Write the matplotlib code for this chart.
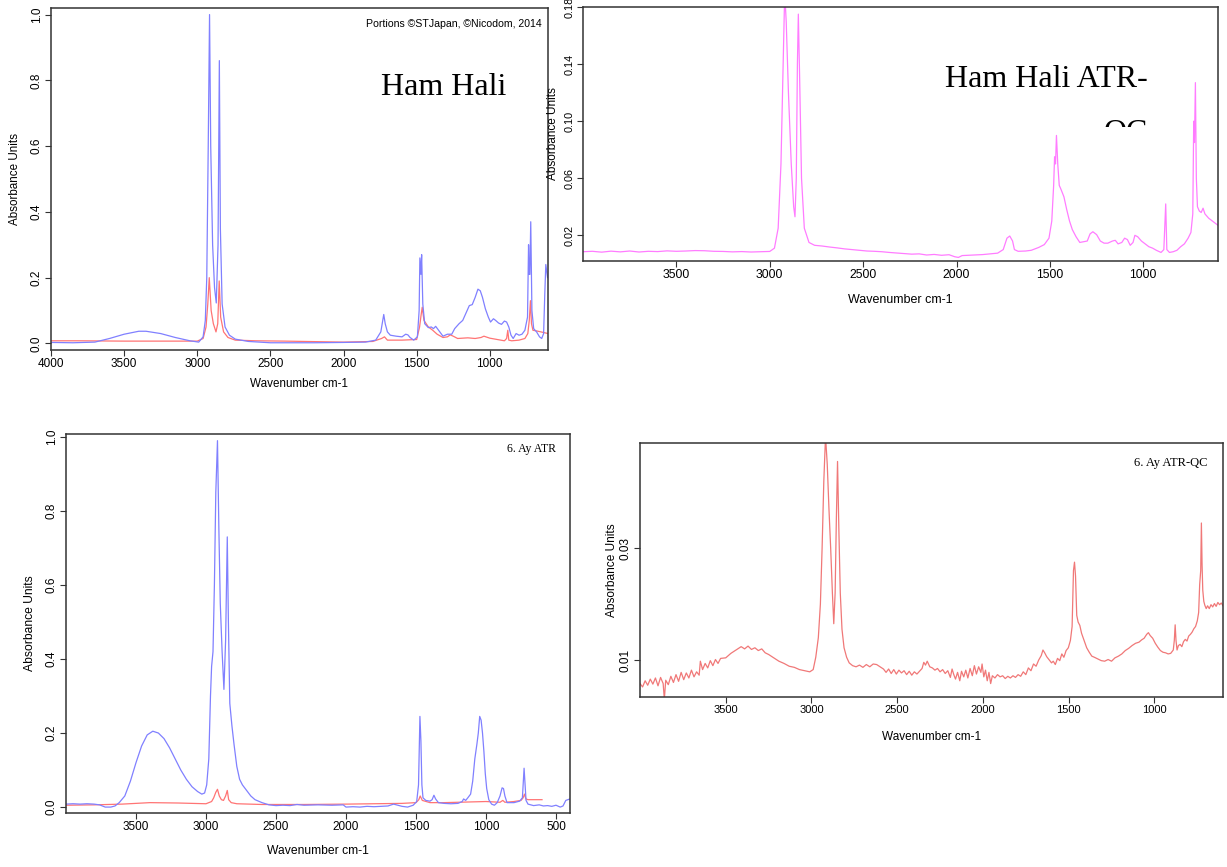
import matplotlib.pyplot as plt
from matplotlib.transforms import Bbox, TransformedBbox

# ---------------------------------------------------------------
# spectra (wavenumber cm-1 / absorbance)
# ---------------------------------------------------------------
ham_wn = [4000, 3850, 3700, 3600, 3500, 3400, 3350, 3250, 3150, 3050, 2990, 2960, 2945, 2935,
          2925, 2916, 2908, 2895, 2882, 2870, 2858, 2849, 2842, 2830, 2810, 2780, 2740, 2650,
          2500, 2200, 2000, 1850, 1780, 1745, 1725, 1715, 1700, 1680, 1640, 1600, 1575, 1560,
          1545, 1520, 1495, 1483, 1478, 1471, 1466, 1458, 1445, 1420, 1400, 1385, 1370, 1350,
          1320, 1290, 1260, 1240, 1210, 1185, 1160, 1140, 1120, 1100, 1081, 1065, 1050, 1030,
          1010, 995, 975, 960, 940, 920, 900, 885, 870, 855, 840, 820, 800, 780, 760, 742,
          735, 730, 726, 720, 712, 700, 680, 660, 645, 632, 624, 617, 605]
ham_blue = [0.003, 0.002, 0.004, 0.015, 0.028, 0.037, 0.037, 0.030, 0.018, 0.008, 0.004, 0.020,
            0.070, 0.200, 0.600, 1.000, 0.600, 0.300, 0.170, 0.123, 0.300, 0.860, 0.350, 0.120,
            0.050, 0.025, 0.013, 0.006, 0.002, 0.002, 0.003, 0.004, 0.010, 0.035, 0.088, 0.060,
            0.035, 0.025, 0.022, 0.020, 0.028, 0.026, 0.018, 0.010, 0.020, 0.100, 0.260, 0.210,
            0.270, 0.120, 0.060, 0.048, 0.050, 0.045, 0.052, 0.040, 0.022, 0.028, 0.028, 0.045,
            0.060, 0.070, 0.095, 0.115, 0.118, 0.140, 0.165, 0.160, 0.140, 0.105, 0.080, 0.065,
            0.075, 0.070, 0.062, 0.058, 0.068, 0.065, 0.050, 0.025, 0.015, 0.030, 0.025, 0.028,
            0.040, 0.080, 0.300, 0.210, 0.210, 0.370, 0.100, 0.045, 0.035, 0.020, 0.015, 0.030,
            0.150, 0.240, 0.200]
ham_red_wn = [4000, 3800, 3500, 3200, 3000, 2960, 2940, 2928, 2918, 2905, 2890, 2872, 2860,
              2850, 2840, 2820, 2790, 2740, 2600, 2400, 2000, 1800, 1740, 1720, 1700, 1600,
              1500, 1480, 1470, 1462, 1450, 1420, 1390, 1360, 1320, 1290, 1270, 1250, 1220,
              1150, 1100, 1060, 1040, 1000, 950, 900, 885, 877, 870, 850, 800, 760, 740, 730,
              722, 715, 705, 680, 640, 602]
ham_red = [0.008, 0.008, 0.007, 0.007, 0.007, 0.015, 0.050, 0.120, 0.200, 0.100, 0.060, 0.035,
           0.060, 0.190, 0.080, 0.035, 0.018, 0.010, 0.008, 0.007, 0.004, 0.006, 0.015, 0.020,
           0.010, 0.010, 0.012, 0.050, 0.085, 0.110, 0.070, 0.050, 0.040, 0.028, 0.018, 0.020,
           0.026, 0.022, 0.015, 0.017, 0.015, 0.018, 0.022, 0.016, 0.012, 0.008, 0.015, 0.040,
           0.010, 0.008, 0.010, 0.015, 0.030, 0.070, 0.130, 0.060, 0.040, 0.038, 0.034, 0.030]

qc_wn = [4000, 3950, 3900, 3850, 3800, 3750, 3700, 3650, 3600, 3550, 3500, 3450, 3400, 3350,
         3300, 3250, 3200, 3150, 3100, 3050, 3000, 2975, 2955, 2940, 2930, 2920, 2912, 2900,
         2885, 2872, 2865, 2858, 2852, 2847, 2840, 2830, 2815, 2790, 2760, 2720, 2680, 2640,
         2600, 2560, 2520, 2480, 2440, 2400, 2360, 2320, 2280, 2240, 2200, 2160, 2120, 2080,
         2040, 2010, 1990, 1970, 1940, 1900, 1860, 1820, 1780, 1750, 1730, 1715, 1700, 1690,
         1670, 1630, 1600, 1560, 1530, 1505, 1490, 1480, 1475, 1470, 1465, 1458, 1450, 1440,
         1425, 1410, 1395, 1380, 1360, 1340, 1320, 1300, 1285, 1270, 1250, 1230, 1210, 1190,
         1165, 1150, 1135, 1115, 1100, 1085, 1070, 1055, 1045, 1030, 1010, 990, 970, 950, 930,
         905, 890, 880, 874, 860, 840, 820, 800, 780, 760, 745, 735, 730, 726, 721, 716, 710,
         700, 690, 680, 670, 650, 630, 600]
qc_abs = [0.0085, 0.0088, 0.0082, 0.0089, 0.0084, 0.0090, 0.0083, 0.0088, 0.0086, 0.0091,
          0.0088, 0.0090, 0.0093, 0.0092, 0.0088, 0.0087, 0.0084, 0.0086, 0.0083, 0.0085,
          0.0087, 0.0110, 0.0250, 0.0700, 0.1300, 0.1900, 0.1700, 0.1200, 0.0700, 0.0400,
          0.0330, 0.0600, 0.1400, 0.1750, 0.1300, 0.0600, 0.0250, 0.0150, 0.0130, 0.0125,
          0.0118, 0.0112, 0.0105, 0.0100, 0.0095, 0.0090, 0.0088, 0.0085, 0.0080, 0.0076,
          0.0072, 0.0068, 0.0070, 0.0062, 0.0066, 0.0060, 0.0064, 0.0050, 0.0045, 0.0058,
          0.0060, 0.0062, 0.0065, 0.0070, 0.0075, 0.0100, 0.0180, 0.0195, 0.0160, 0.0100,
          0.0088, 0.0090, 0.0095, 0.0115, 0.0135, 0.0180, 0.0300, 0.0550, 0.0750, 0.0700,
          0.0900, 0.0700, 0.0550, 0.0520, 0.0470, 0.0380, 0.0300, 0.0240, 0.0190, 0.0150,
          0.0155, 0.0160, 0.0210, 0.0225, 0.0205, 0.0160, 0.0145, 0.0145, 0.0160, 0.0165,
          0.0140, 0.0150, 0.0180, 0.0170, 0.0130, 0.0150, 0.0200, 0.0190, 0.0160, 0.0140,
          0.0120, 0.0110, 0.0095, 0.0080, 0.0100, 0.0420, 0.0100, 0.0080, 0.0085, 0.0095,
          0.0120, 0.0140, 0.0180, 0.0220, 0.0350, 0.1000, 0.0850, 0.1270, 0.0600, 0.0400,
          0.0370, 0.0360, 0.0390, 0.0350, 0.0320, 0.0300, 0.0270]

ay_wn = [4000, 3950, 3900, 3850, 3800, 3760, 3720, 3680, 3650, 3620, 3580, 3540, 3500, 3460,
         3420, 3380, 3340, 3300, 3260, 3220, 3180, 3140, 3100, 3060, 3030, 3010, 2995, 2980,
         2968, 2960, 2950, 2940, 2930, 2918, 2908, 2898, 2885, 2872, 2860, 2848, 2840, 2830,
         2815, 2800, 2780, 2760, 2740, 2710, 2680, 2650, 2600, 2550, 2500, 2450, 2400, 2350,
         2300, 2200, 2100, 2020, 2000, 1950, 1900, 1850, 1800, 1750, 1700, 1660, 1640, 1600,
         1560, 1520, 1495, 1482, 1472, 1465, 1458, 1450, 1430, 1400, 1385, 1372, 1360, 1340,
         1300, 1250, 1200, 1170, 1160, 1145, 1130, 1110, 1095, 1080, 1065, 1055, 1045, 1035,
         1025, 1015, 1005, 995, 980, 960, 940, 920, 900, 885, 875, 865, 850, 800, 760, 740,
         728, 721, 714, 700, 660, 620, 590, 560, 530, 500, 470, 450, 430, 400]
ay_blue = [0.008, 0.009, 0.008, 0.009, 0.008, 0.006, 0.000, 0.000, 0.003, 0.012, 0.030, 0.070,
           0.120, 0.165, 0.195, 0.205, 0.200, 0.185, 0.160, 0.130, 0.100, 0.075, 0.055, 0.042,
           0.035, 0.038, 0.060, 0.130, 0.300, 0.380, 0.420, 0.600, 0.850, 0.990, 0.750, 0.550,
           0.420, 0.318, 0.450, 0.730, 0.500, 0.280, 0.220, 0.170, 0.110, 0.075, 0.060, 0.045,
           0.030, 0.020, 0.012, 0.006, 0.004, 0.005, 0.004, 0.007, 0.005, 0.006, 0.005, 0.006,
           0.000, 0.001, 0.000, 0.002, 0.001, 0.002, 0.003, 0.008, 0.006, 0.002, 0.000, 0.005,
           0.015, 0.060, 0.245, 0.180, 0.060, 0.025, 0.018, 0.016, 0.020, 0.032, 0.022, 0.012,
           0.010, 0.009, 0.010, 0.015, 0.022, 0.018, 0.025, 0.035, 0.070, 0.130, 0.170, 0.200,
           0.245, 0.235, 0.200, 0.150, 0.090, 0.050, 0.020, 0.008, 0.005, 0.012, 0.030, 0.052,
           0.050, 0.030, 0.012, 0.012, 0.016, 0.025, 0.105, 0.060, 0.018, 0.008, 0.004, 0.006,
           0.003, 0.004, 0.002, 0.005, 0.000, 0.003, 0.018, 0.022]
ay_red_wn = [4000, 3800, 3600, 3400, 3200, 3000, 2960, 2945, 2930, 2918, 2905, 2890, 2875, 2860,
             2848, 2838, 2820, 2780, 2600, 2300, 2000, 1800, 1600, 1500, 1480, 1470, 1455, 1400,
             1300, 1200, 1100, 1000, 900, 880, 865, 800, 750, 735, 725, 715, 700, 650, 600]
ay_red = [0.005, 0.006, 0.008, 0.012, 0.011, 0.009, 0.015, 0.025, 0.040, 0.048, 0.030, 0.020,
          0.018, 0.030, 0.045, 0.020, 0.012, 0.009, 0.007, 0.007, 0.008, 0.009, 0.010, 0.012,
          0.020, 0.030, 0.018, 0.012, 0.012, 0.013, 0.014, 0.015, 0.013, 0.018, 0.013, 0.015,
          0.018, 0.025, 0.035, 0.022, 0.020, 0.020, 0.020]

ayqc_wn = [4000, 3985, 3970, 3955, 3940, 3925, 3910, 3895, 3880, 3865, 3858, 3850, 3835, 3820,
           3805, 3790, 3775, 3760, 3745, 3730, 3715, 3700, 3685, 3670, 3655, 3648, 3635, 3620,
           3605, 3590, 3575, 3560, 3545, 3530, 3500, 3470, 3440, 3410, 3390, 3370, 3350, 3330,
           3310, 3290, 3270, 3250, 3220, 3190, 3160, 3130, 3100, 3070, 3040, 3010, 2990, 2975,
           2960, 2948, 2938, 2928, 2918, 2908, 2898, 2888, 2878, 2870, 2862, 2855, 2848, 2840,
           2832, 2822, 2810, 2795, 2780, 2760, 2740, 2720, 2700, 2680, 2660, 2640, 2620, 2600,
           2580, 2565, 2550, 2535, 2520, 2505, 2490, 2475, 2460, 2445, 2430, 2415, 2400, 2385,
           2370, 2355, 2345, 2335, 2325, 2310, 2295, 2280, 2265, 2250, 2235, 2220, 2205, 2190,
           2180, 2170, 2160, 2148, 2135, 2125, 2112, 2100, 2088, 2075, 2062, 2050, 2038, 2025,
           2012, 2005, 1995, 1985, 1975, 1965, 1955, 1945, 1930, 1915, 1900, 1885, 1870, 1855,
           1840, 1825, 1810, 1795, 1780, 1765, 1750, 1735, 1720, 1705, 1690, 1675, 1660, 1650,
           1640, 1628, 1615, 1600, 1590, 1578, 1565, 1552, 1540, 1528, 1515, 1502, 1490, 1480,
           1472, 1466, 1460, 1453, 1445, 1435, 1425, 1410, 1395, 1380, 1365, 1350, 1330, 1310,
           1290, 1270, 1250, 1230, 1210, 1190, 1170, 1150, 1130, 1110, 1090, 1075, 1060, 1045,
           1035, 1025, 1010, 995, 980, 965, 950, 935, 920, 905, 890, 884, 879, 874, 868, 860,
           850, 840, 830, 820, 810, 800, 790, 780, 770, 760, 750, 742, 736, 730, 726, 722, 718,
           712, 706, 698, 690, 680, 670, 660, 650, 640, 630, 620, 610, 600]
ayqc_abs = [0.0058, 0.0052, 0.0063, 0.0055, 0.0066, 0.0057, 0.0068, 0.0054, 0.0069, 0.0058,
            0.0030, 0.0064, 0.0056, 0.0071, 0.0060, 0.0074, 0.0062, 0.0078, 0.0065, 0.0077,
            0.0068, 0.0082, 0.0070, 0.0079, 0.0073, 0.0098, 0.0083, 0.0094, 0.0086, 0.0099,
            0.0090, 0.0101, 0.0094, 0.0103, 0.0104, 0.0112, 0.0118, 0.0124, 0.0120, 0.0125,
            0.0119, 0.0122, 0.0117, 0.0120, 0.0113, 0.0110, 0.0104, 0.0098, 0.0094, 0.0089,
            0.0087, 0.0083, 0.0081, 0.0079, 0.0083, 0.0105, 0.0140, 0.0200, 0.0300, 0.0420,
            0.0500, 0.0450, 0.0370, 0.0300, 0.0220, 0.0165, 0.0220, 0.0350, 0.0455, 0.0330,
            0.0220, 0.0155, 0.0122, 0.0105, 0.0095, 0.0090, 0.0088, 0.0091, 0.0087, 0.0092,
            0.0088, 0.0093, 0.0092, 0.0088, 0.0084, 0.0078, 0.0084, 0.0076, 0.0083, 0.0075,
            0.0082, 0.0077, 0.0081, 0.0074, 0.0080, 0.0073, 0.0079, 0.0075, 0.0080, 0.0085,
            0.0096, 0.0091, 0.0098, 0.0088, 0.0086, 0.0082, 0.0085, 0.0079, 0.0083, 0.0076,
            0.0081, 0.0069, 0.0084, 0.0074, 0.0066, 0.0078, 0.0063, 0.0080, 0.0070, 0.0082,
            0.0068, 0.0085, 0.0072, 0.0090, 0.0075, 0.0088, 0.0078, 0.0093, 0.0070, 0.0082,
            0.0063, 0.0078, 0.0058, 0.0072, 0.0068, 0.0074, 0.0070, 0.0072, 0.0067, 0.0071,
            0.0068, 0.0072, 0.0069, 0.0074, 0.0071, 0.0079, 0.0074, 0.0086, 0.0081, 0.0093,
            0.0089, 0.0100, 0.0108, 0.0118, 0.0113, 0.0106, 0.0101, 0.0095, 0.0098, 0.0092,
            0.0103, 0.0099, 0.0111, 0.0105, 0.0117, 0.0122, 0.0135, 0.0160, 0.0260, 0.0275,
            0.0250, 0.0180, 0.0168, 0.0162, 0.0148, 0.0135, 0.0122, 0.0114, 0.0107, 0.0105,
            0.0102, 0.0099, 0.0098, 0.0101, 0.0098, 0.0104, 0.0107, 0.0111, 0.0117, 0.0121,
            0.0126, 0.0130, 0.0132, 0.0136, 0.0139, 0.0146, 0.0149, 0.0144, 0.0139, 0.0130,
            0.0123, 0.0117, 0.0114, 0.0113, 0.0111, 0.0112, 0.0118, 0.0135, 0.0163, 0.0135,
            0.0118, 0.0126, 0.0128, 0.0124, 0.0133, 0.0137, 0.0134, 0.0143, 0.0146, 0.0150,
            0.0156, 0.0160, 0.0170, 0.0185, 0.0235, 0.0260, 0.0345, 0.0270, 0.0225, 0.0205,
            0.0198, 0.0192, 0.0197, 0.0192, 0.0199, 0.0195, 0.0201, 0.0196, 0.0203, 0.0199,
            0.0202, 0.0197]

W, H = 1227, 867
BLUE = '#8080ff'
RED = '#ff7474'
MAGENTA = '#ff7cff'
RED2 = '#f07878'
SANS = ['Liberation Sans', 'DejaVu Sans']
NARROW = ['Liberation Sans Narrow', 'Liberation Sans', 'DejaVu Sans']
SERIF = ['Liberation Serif', 'DejaVu Serif']

fig = plt.figure(figsize=(W / 100, H / 100), dpi=100, facecolor='white')


def panel(left, top, right, bottom):
    return fig.add_axes([left / W, 1 - bottom / H, (right - left) / W, (bottom - top) / H])


def style(ax, xlim, ylim, xticks, yticks, ylabels, xlab_y, ylab_x,
          xfont=(SANS, 8.5), yfont=(SANS, 8.5), xlab_font=(SANS, 8.4), ylab_font=(SANS, 8.4)):
    ax.set_xlim(*xlim)
    ax.set_ylim(*ylim)
    ax.set_xticks(xticks)
    ax.set_xticklabels([str(t) for t in xticks], family=xfont[0], fontsize=xfont[1])
    ax.set_yticks(yticks)
    ax.set_yticklabels(ylabels, rotation=90, va='center', family=yfont[0], fontsize=yfont[1])
    ax.tick_params(direction='out', length=4, width=0.8, pad=2, color='#333333')
    for s in ax.spines.values():
        s.set_linewidth(1.1)
        s.set_color('#333333')
    ax.set_xlabel('Wavenumber cm-1', fontsize=xlab_font[1], family=xlab_font[0], va='center')
    ax.xaxis.set_label_coords(0.5, xlab_y)
    ax.set_ylabel('Absorbance Units', fontsize=ylab_font[1], family=ylab_font[0], va='center')
    ax.yaxis.set_label_coords(ylab_x, 0.5)


# --- top left: Ham Hali ---
ax1 = panel(51, 8, 548, 350)
ax1.plot(ham_red_wn, ham_red, color=RED, lw=0.9)
ax1.plot(ham_wn, ham_blue, color=BLUE, lw=0.9)
style(ax1, (4000, 602), (-0.02, 1.02), [4000, 3500, 3000, 2500, 2000, 1500, 1000],
      [0.0, 0.2, 0.4, 0.6, 0.8, 1.0], ['0.0', '0.2', '0.4', '0.6', '0.8', '1.0'],
      -0.099, -0.072)
ax1.text(0.988, 0.953, 'Portions \u00a9STJapan, \u00a9Nicodom, 2014', transform=ax1.transAxes,
         ha='right', va='center', fontsize=7.6, family=SANS)
ax1.text(0.9155, 0.746, 'Ham Hali', transform=ax1.transAxes, ha='right', va='baseline',
         fontsize=23, family=SERIF)

# --- top right: Ham Hali ATR-QC ---
ax2 = panel(583, 7, 1218, 261)
ax2.plot(qc_wn, qc_abs, color=MAGENTA, lw=0.9)
style(ax2, (4000, 600), (0.002, 0.18), [3500, 3000, 2500, 2000, 1500, 1000],
      [0.02, 0.06, 0.10, 0.14, 0.18], ['0.02', '0.06', '0.10', '0.14', '0.18'],
      -0.1535, -0.047, xfont=(NARROW, 8.8), yfont=(SANS, 7.8),
      xlab_font=(NARROW, 9), ylab_font=(SANS, 8.5))
ax2.text(0.8898, 0.685, 'Ham Hali ATR-', transform=ax2.transAxes, ha='right', va='baseline',
         fontsize=23, family=SERIF)
qc = ax2.text(0.8898, 0.4724, 'QC', transform=ax2.transAxes, ha='right', va='baseline',
              fontsize=23, family=SERIF)
qc.set_clip_box(TransformedBbox(Bbox.from_extents(0, (H - 127) / H, 1, 1), fig.transFigure))
qc.set_clip_on(True)

# --- bottom left: 6. Ay ATR ---
ax3 = panel(66, 434, 570, 813)
ax3.plot(ay_red_wn, ay_red, color=RED, lw=0.9)
ax3.plot(ay_wn, ay_blue, color=BLUE, lw=0.9)
style(ax3, (4000, 400), (-0.016, 1.008), [3500, 3000, 2500, 2000, 1500, 1000, 500],
      [0.0, 0.2, 0.4, 0.6, 0.8, 1.0], ['0.0', '0.2', '0.4', '0.6', '0.8', '1.0'],
      -0.1, -0.0714, xlab_font=(SANS, 8.7), ylab_font=(SANS, 8.7))
ax3.text(0.972, 0.96, '6. Ay ATR', transform=ax3.transAxes, ha='right', va='center',
         fontsize=8.5, family=SERIF)

# --- bottom right: 6. Ay ATR-QC ---
ax4 = panel(640, 443, 1223, 697)
ax4.plot(ayqc_wn, ayqc_abs, color=RED2, lw=0.9)
style(ax4, (4000, 600), (0.0034, 0.0488), [3500, 3000, 2500, 2000, 1500, 1000],
      [0.01, 0.03], ['0.01', '0.03'], -0.157, -0.048,
      xfont=(NARROW, 8), yfont=(SANS, 8.5), xlab_font=(NARROW, 8.5), ylab_font=(SANS, 8.6))
ax4.text(0.9726, 0.921, '6. Ay ATR-QC', transform=ax4.transAxes, ha='right', va='center',
         fontsize=9, family=SERIF)

fig.savefig('out.png', dpi=100, facecolor='white')
